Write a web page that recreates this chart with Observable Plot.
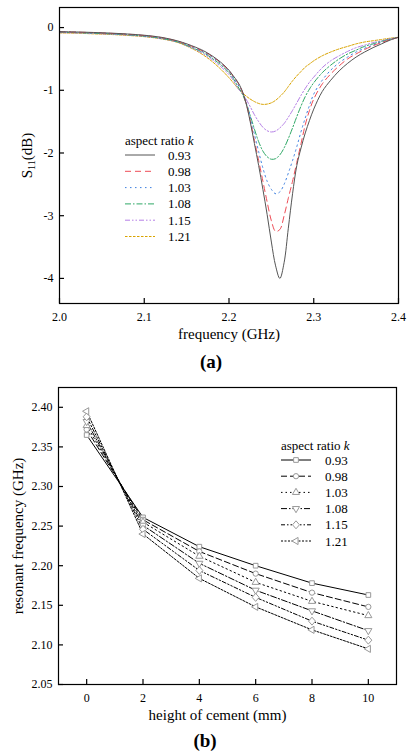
<!DOCTYPE html>
<html><head><meta charset="utf-8">
<script src="https://cdn.jsdelivr.net/npm/d3@7"></script>
<script src="https://cdn.jsdelivr.net/npm/@observablehq/plot@0.6"></script>
<style>
body{margin:0;background:#fff;font-family:"Liberation Serif",serif;}
#wrap{position:relative;width:407px;height:753px;overflow:hidden;}
#wrap svg{position:absolute;left:0;}
#wrap svg text{font-family:"Liberation Serif",serif;}
.cap{position:absolute;font:bold 19px "Liberation Serif",serif;transform:translate(-50%,-50%);white-space:nowrap;}
</style></head><body><div id="wrap"></div>
<script>
// ---------- Panel (a) data ----------
const kLabels = ["0.93", "0.98", "1.03", "1.08", "1.15", "1.21"];
const freq = [2.00,2.02,2.04,2.06,2.08,2.10,2.12,2.14,2.16,2.17,2.18,2.19,2.20,2.205,
  2.21,2.215,2.22,2.225,2.23,2.235,2.24,2.245,2.25,2.255,2.26,2.265,2.27,2.275,2.28,2.285,2.29,2.295,2.30,
  2.31,2.32,2.33,2.34,2.35,2.36,2.37,2.38,2.39,2.40];
const s11_093 = [-0.065,-0.07,-0.078,-0.088,-0.102,-0.122,-0.155,-0.215,-0.31,-0.37,-0.45,-0.55,-0.68,-0.77,
  -0.86,-0.99,-1.2,-1.5,-1.85,-2.2,-2.58,-2.98,-3.42,-3.8,-4.0,-3.75,-3.2,-2.65,-2.2,-1.92,-1.68,-1.48,-1.3,
  -1.02,-0.84,-0.69,-0.57,-0.47,-0.39,-0.32,-0.26,-0.2,-0.155];
const s11_098 = [-0.068,-0.073,-0.081,-0.092,-0.106,-0.127,-0.16,-0.22,-0.32,-0.38,-0.46,-0.56,-0.69,-0.78,
  -0.87,-1.0,-1.2,-1.48,-1.8,-2.12,-2.45,-2.78,-3.08,-3.25,-3.22,-3.0,-2.72,-2.45,-2.15,-1.85,-1.55,-1.32,-1.14,
  -0.9,-0.74,-0.61,-0.5,-0.42,-0.35,-0.29,-0.24,-0.195,-0.155];
const s11_103 = [-0.072,-0.077,-0.085,-0.096,-0.11,-0.132,-0.166,-0.226,-0.33,-0.39,-0.47,-0.57,-0.7,-0.79,
  -0.9,-1.0,-1.18,-1.42,-1.7,-1.98,-2.24,-2.45,-2.58,-2.65,-2.62,-2.5,-2.32,-2.12,-1.9,-1.66,-1.44,-1.24,-1.06,
  -0.84,-0.68,-0.56,-0.47,-0.39,-0.33,-0.28,-0.23,-0.19,-0.155];
const s11_108 = [-0.076,-0.081,-0.09,-0.1,-0.115,-0.137,-0.172,-0.232,-0.34,-0.4,-0.49,-0.59,-0.72,-0.81,
  -0.93,-1.04,-1.2,-1.4,-1.62,-1.82,-1.97,-2.06,-2.1,-2.09,-2.03,-1.92,-1.77,-1.6,-1.42,-1.25,-1.1,-0.98,-0.88,
  -0.72,-0.6,-0.5,-0.42,-0.36,-0.3,-0.26,-0.22,-0.185,-0.155];
const s11_115 = [-0.08,-0.085,-0.094,-0.105,-0.12,-0.141,-0.176,-0.236,-0.35,-0.42,-0.51,-0.62,-0.75,-0.84,
  -0.96,-1.04,-1.14,-1.26,-1.39,-1.5,-1.59,-1.645,-1.665,-1.65,-1.6,-1.53,-1.43,-1.32,-1.2,-1.08,-0.97,-0.87,-0.79,
  -0.64,-0.53,-0.45,-0.38,-0.32,-0.28,-0.24,-0.21,-0.18,-0.155];
const s11_121 = [-0.085,-0.09,-0.1,-0.11,-0.125,-0.145,-0.18,-0.24,-0.36,-0.44,-0.54,-0.66,-0.8,-0.88,
  -0.96,-1.03,-1.09,-1.14,-1.18,-1.21,-1.225,-1.22,-1.2,-1.16,-1.1,-1.03,-0.94,-0.85,-0.77,-0.7,-0.63,-0.58,-0.53,
  -0.45,-0.39,-0.34,-0.3,-0.26,-0.23,-0.21,-0.19,-0.17,-0.155];
const xTicksA = [2.0, 2.1, 2.2, 2.3, 2.4];
const yTicksA = [0, -1, -2, -3, -4];

// ---------- Panel (b) data ----------
const heights = [0, 2, 4, 6, 8, 10];
const res_093 = [2.365, 2.261, 2.224, 2.200, 2.178, 2.163];
const res_098 = [2.372, 2.258, 2.218, 2.190, 2.166, 2.148];
const res_103 = [2.377, 2.255, 2.212, 2.179, 2.155, 2.137];
const res_108 = [2.382, 2.251, 2.203, 2.169, 2.143, 2.118];
const res_115 = [2.388, 2.246, 2.194, 2.160, 2.130, 2.106];
const res_121 = [2.395, 2.240, 2.184, 2.148, 2.119, 2.095];
const xTicksB = [0, 2, 4, 6, 8, 10];
const yTicksB = [2.05, 2.10, 2.15, 2.20, 2.25, 2.30, 2.35, 2.40];

// ---------- styles ----------
const colorsA = ["#555555", "#ee4b55", "#3d7fe0", "#2fa866", "#b57fe6", "#d9a300"];
const dashesA = ["none", "6,4", "1.5,3.5", "6,2,1.5,2", "5,2,1.5,2,1.5,2", "2.5,1.5"];
const dashesB = ["none", "6,3", "1.5,3", "6,2,1.5,2", "4,2,1.5,2,1.5,2", "2,1.5"];

function triDown() { return {draw(ctx, size) { const r = Math.sqrt(size / (3 * Math.sqrt(3) / 4)); const s = r * Math.sqrt(3) / 2;
  ctx.moveTo(0, r); ctx.lineTo(-s, -r / 2); ctx.lineTo(s, -r / 2); ctx.closePath(); }}; }
function triLeft() { return {draw(ctx, size) { const r = Math.sqrt(size / (3 * Math.sqrt(3) / 4)); const s = r * Math.sqrt(3) / 2;
  ctx.moveTo(-r, 0); ctx.lineTo(r / 2, -s); ctx.lineTo(r / 2, s); ctx.closePath(); }}; }
function diamondWide() { return {draw(ctx, size) { const a = Math.sqrt(size / 2) * 1.05, b = Math.sqrt(size / 2) * 1.2;
  ctx.moveTo(0, -b); ctx.lineTo(a, 0); ctx.lineTo(0, b); ctx.lineTo(-a, 0); ctx.closePath(); }}; }
const symbolsB = [d3.symbolSquare, d3.symbolCircle, d3.symbolTriangle, triDown(), diamondWide(), triLeft()];

const seriesA = [s11_093, s11_098, s11_103, s11_108, s11_115, s11_121];
const seriesB = [res_093, res_098, res_103, res_108, res_115, res_121];
const rowsA = kLabels.map((k, i) => freq.map((f, j) => ({k, f, v: seriesA[i][j]})));
const rowsB = kLabels.map((k, i) => heights.map((h, j) => ({k, h, v: seriesB[i][j]})));

const FONT = "Liberation Serif";
const wrap = document.getElementById("wrap");

// ---------- Panel (a) ----------
const WA = 407, HA = 345, mA = {t: 7, b: 42, l: 59, r: 9};
const plotA = Plot.plot({
  width: WA, height: HA, marginTop: mA.t, marginBottom: mA.b, marginLeft: mA.l, marginRight: mA.r,
  style: {fontFamily: "'Liberation Serif', serif", fontSize: "12px", color: "black", background: "white", overflow: "visible"},
  x: {domain: [2.0, 2.4]},
  y: {domain: [-4.4, 0.32]},
  marks: [
    Plot.axisX({ticks: xTicksA, tickFormat: d3.format(".1f"), tickSize: 0, tickPadding: 9, label: null, fontSize: 12}),
    Plot.axisY({ticks: yTicksA, tickFormat: d => String(d), tickSize: 0, tickPadding: 6, label: null, fontSize: 12}),
    Plot.tickX(xTicksA, {x: d => d, insetTop: HA - mA.t - mA.b - 5, stroke: "black", strokeWidth: 1.2}),
    Plot.tickY(yTicksA, {y: d => d, insetRight: WA - mA.l - mA.r - 5, stroke: "black", strokeWidth: 1.2}),
    ...rowsA.map((rows, i) => Plot.line(rows, {x: "f", y: "v", stroke: colorsA[i], strokeWidth: 1,
      strokeDasharray: dashesA[i], curve: "catmull-rom"})).reverse(),
    Plot.frame({stroke: "black", strokeWidth: 1.2}),
    Plot.text(["frequency (GHz)"], {text: d => d, frameAnchor: "bottom", lineAnchor: "middle", textAnchor: "middle", dy: 31, fontSize: 15}),
    Plot.text(["S11(dB)"], {text: d => d, frameAnchor: "left", lineAnchor: "middle", textAnchor: "middle", rotate: -90, dx: -32, fontSize: 15})
  ]
});
plotA.style.top = "0px";
wrap.appendChild(plotA);
d3.select(plotA).selectAll("text").filter(function () { return this.textContent === "S11(dB)"; }).each(function () {
  const t = d3.select(this); t.text(null);
  t.append("tspan").text("S");
  t.append("tspan").attr("font-size", 10).attr("dy", 3).text("11");
  t.append("tspan").attr("dy", -3).text("(dB)");
});

function legend(svg, o) {
  const g = d3.select(svg).append("g").attr("font-family", FONT).attr("font-size", o.fs)
    .attr("fill", "black").attr("text-anchor", "start").style("text-anchor", "start");
  const t = g.append("text").attr("x", o.x).attr("y", o.titleY).attr("dy", "0.35em").attr("text-anchor", "start");
  t.append("tspan").text("aspect ratio ");
  t.append("tspan").attr("font-style", "italic").text("k");
  o.items.forEach((it, i) => {
    const y = o.y0 + i * o.step;
    g.append("line").attr("x1", o.x).attr("x2", o.x + o.len).attr("y1", y).attr("y2", y)
      .attr("stroke", it.stroke).attr("stroke-dasharray", it.dash).attr("stroke-width", 1);
    if (it.symbol) g.append("path").attr("transform", `translate(${o.x + o.len / 2},${y})`)
      .attr("d", d3.symbol(it.symbol, o.symSize)()).attr("fill", "white").attr("stroke", "#999").attr("stroke-width", 1);
    g.append("text").attr("x", o.labelX).attr("y", y).attr("dy", "0.35em").attr("text-anchor", "start").text(it.label);
  });
}
legend(plotA, {fs: 13, x: 125, titleY: 140, y0: 155, step: 16.3, len: 30, labelX: 168,
  items: kLabels.map((k, i) => ({label: k, stroke: colorsA[i], dash: dashesA[i]}))});

const capA = document.createElement("div"); capA.className = "cap"; capA.textContent = "(a)";
capA.style.left = "211px"; capA.style.top = "362px"; wrap.appendChild(capA);

// ---------- Panel (b) ----------
const WB = 407, HB = 350, mB = {t: 12, b: 41, l: 58, r: 11};
const symSize = 22;
const plotB = Plot.plot({
  width: WB, height: HB, marginTop: mB.t, marginBottom: mB.b, marginLeft: mB.l, marginRight: mB.r,
  style: {fontFamily: "'Liberation Serif', serif", fontSize: "12px", color: "black", background: "white", overflow: "visible"},
  x: {domain: [-1, 11]},
  y: {domain: [2.05, 2.425]},
  marks: [
    Plot.axisX({ticks: xTicksB, tickFormat: d => String(d), tickSize: 0, tickPadding: 9, label: null, fontSize: 12}),
    Plot.axisY({ticks: yTicksB, tickFormat: d3.format(".2f"), tickSize: 0, tickPadding: 6, label: null, fontSize: 12}),
    Plot.tickX(xTicksB, {x: d => d, insetTop: HB - mB.t - mB.b - 5, stroke: "black", strokeWidth: 1.2}),
    Plot.tickY(yTicksB, {y: d => d, insetRight: WB - mB.l - mB.r - 5, stroke: "black", strokeWidth: 1.2}),
    ...rowsB.map((rows, i) => Plot.line(rows, {x: "h", y: "v", stroke: "black", strokeWidth: 1, strokeDasharray: dashesB[i]})),
    ...rowsB.map((rows, i) => Plot.dot(rows, {x: "h", y: "v", symbol: symbolsB[i], r: Math.sqrt(symSize / Math.PI),
      stroke: "#999", fill: "white", strokeWidth: 1})),
    Plot.frame({stroke: "black", strokeWidth: 1.2}),
    Plot.text(["height of cement (mm)"], {text: d => d, frameAnchor: "bottom", lineAnchor: "middle", textAnchor: "middle", dy: 31, dx: -10, fontSize: 15}),
    Plot.text(["resonant frequency (GHz)"], {text: d => d, frameAnchor: "left", lineAnchor: "middle", textAnchor: "middle", rotate: -90, dx: -40, fontSize: 15})
  ]
});
plotB.style.top = "375px";
wrap.appendChild(plotB);
legend(plotB, {fs: 13, x: 281, titleY: 445 - 375, y0: 460 - 375, step: 16.2, len: 30, labelX: 325, symSize,
  items: kLabels.map((k, i) => ({label: k, stroke: "black", dash: dashesB[i], symbol: symbolsB[i]}))});

const capB = document.createElement("div"); capB.className = "cap"; capB.textContent = "(b)";
capB.style.left = "205px"; capB.style.top = "741px"; wrap.appendChild(capB);
</script></body></html>
